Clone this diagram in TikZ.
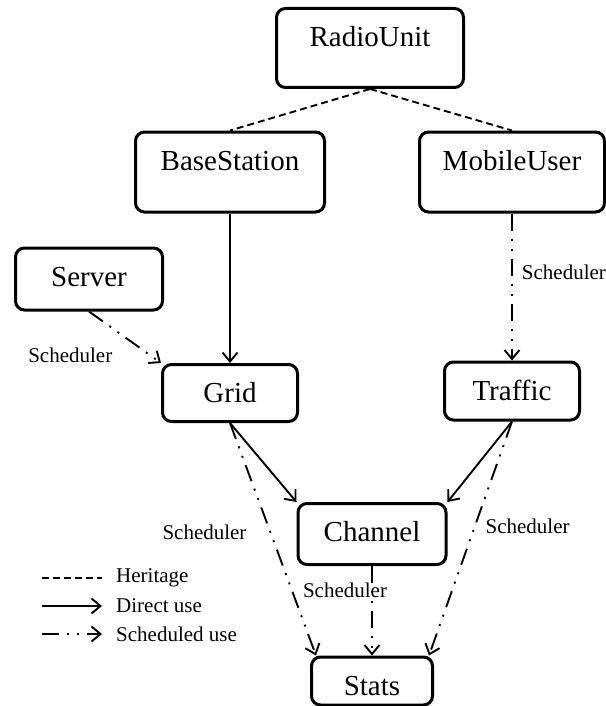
\documentclass[tikz,border=0pt]{standalone}
\usepackage{fontspec}
\setmainfont{Liberation Serif}
\usetikzlibrary{positioning,arrows.meta}

\tikzset{
  cls/.style={draw, line width=3pt, rounded corners=9pt, text height=38pt,
    inner ysep=0pt, inner xsep=0pt, font=\fontsize{29}{33}\selectfont},
  lbl/.style={font=\fontsize{21}{24}\selectfont, inner sep=1pt},
  heritage/.style={line width=1.9pt, dash pattern=on 7pt off 4pt},
  direct/.style={line width=1.9pt, -{Straight Barb[length=9pt,width=15pt,line width=1.9pt]}},
  sched/.style={direct, dash pattern=on 17pt off 8pt on 2pt off 8pt on 2pt off 8pt},
}

\begin{document}
\begin{tikzpicture}[x=1pt,y=1pt,on grid]
		\useasboundingbox (0,0) rectangle (605,-706);

		% classes
		\node[cls, minimum width=187pt, text depth=41pt] (ru) at (370,-48) {RadioUnit};
		\node[cls, minimum width=189pt, text depth=42pt] (bs) [below left=124pt and 140pt of ru] {BaseStation};
		\node[cls, minimum width=185pt, text depth=42pt] (mu) [below right=124pt and 142pt of ru] {MobileUser};

		\node[cls, minimum width=135pt, text depth=19pt] (grid) [below=221pt of bs] {Grid};
		\node[cls, minimum width=135pt, text depth=20pt] (traffic) [below=219pt of mu] {Traffic};
		\node[cls, minimum width=147pt, text depth=24pt] (server) [above left=114pt and 141pt of grid] {Server};

		\node[cls, minimum width=148pt, text depth=23pt] (channel) [below right=141pt and 142pt of grid] {Channel};
		\node[cls, minimum width=121pt, text depth=10pt] (stats) [below=147pt of channel] {Stats};

		\path
		(ru.south) edge[heritage] (bs.north)
		           edge[heritage] (mu.north)

		(bs) edge[direct] (grid)

		(mu) edge[sched] node[lbl, pos=.4, right=8pt] (l1) {Scheduler} (traffic)

		(server.south) edge[sched] node[lbl, pos=.85, left=36pt] (l2) {Scheduler} (grid.north west)

		(grid.south) edge[direct] (channel.north west)
		             edge[sched] node[lbl, pos=.47, left=22pt] (l3) {Scheduler} ([xshift=6pt]stats.north west)

		(traffic.south) edge[direct] (channel.north east)
		                edge[sched] node[lbl, pos=.45, right=9pt] (l4) {Scheduler} ([xshift=-5pt]stats.north east)

		(channel) edge[sched] node[lbl, pos=.27, xshift=-27pt] (l5) {Scheduler} (stats);

		% key
		\node[lbl, anchor=west] (kher) at (115,-578) {Heritage};
		\node[lbl, anchor=west] (kdir) at (115,-606) {Direct use};
		\node[lbl, anchor=west] (ksch) at (115,-634) {Scheduled use};
		\coordinate (h0) at (42,-578);  \coordinate (h1) at (102,-578);
		\coordinate (d0) at (42,-606);  \coordinate (d1) at (102,-606);
		\coordinate (s0) at (42,-634);  \coordinate (s1) at (102,-634);
		\draw[heritage] (h0) -- (h1);
		\draw[direct] (d0) -- (d1);
		\draw[sched] (s0) -- (s1);
	\end{tikzpicture}
\end{document}
